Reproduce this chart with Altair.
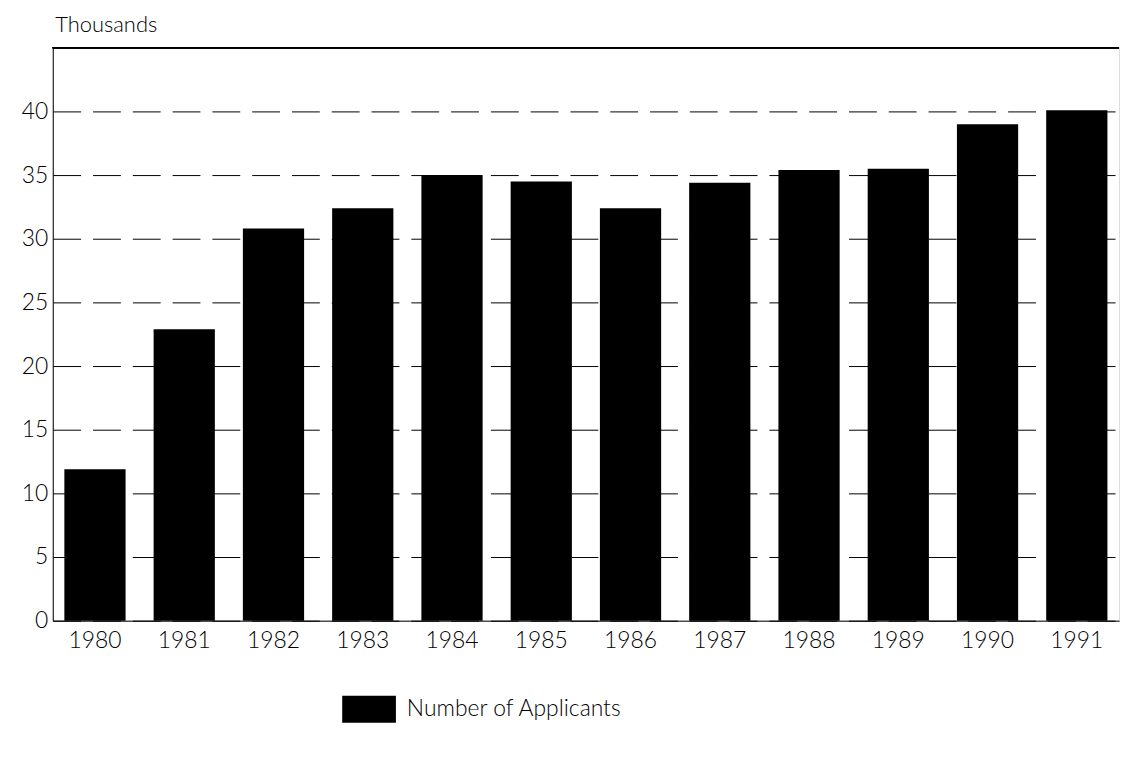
import altair as alt
import pandas as pd

years = ["1980", "1981", "1982", "1983", "1984", "1985", "1986", "1987", "1988", "1989", "1990", "1991"]
applicants = [11.9, 22.9, 30.8, 32.4, 35.0, 34.5, 32.4, 34.4, 35.4, 35.5, 39.0, 40.1]
series = ["Number of Applicants"] * len(years)
y_ticks = [0, 5, 10, 15, 20, 25, 30, 35, 40]

df = pd.DataFrame({"year": years, "value": applicants, "series": series})

W, H = 1072, 576
FONT = "Lato"

bars = alt.Chart(df).mark_bar(color="black").encode(
    x=alt.X("year:N", sort=years,
            scale=alt.Scale(paddingInner=0.314, paddingOuter=0.13),
            axis=alt.Axis(title=None, labelAngle=0, ticks=False, domain=True,
                          domainColor="black", labelFontSize=23, labelPadding=9,
                          labelColor="black", labelFont=FONT, labelFontWeight=300)),
    y=alt.Y("value:Q", scale=alt.Scale(domain=[0, 45], nice=False),
            axis=alt.Axis(values=y_ticks, title="Thousands", titleAngle=0,
                          titleAlign="left", titleX=2, titleY=-23, titleBaseline="middle",
                          titleFontSize=22, titleFontWeight=300, titleFont=FONT,
                          titleColor="black",
                          ticks=False, domainColor="black", labelFontSize=23,
                          labelPadding=5, labelColor="black", labelFont=FONT,
                          labelFontWeight=300,
                          grid=True, gridColor="black", gridDash=[28, 12],
                          gridWidth=1, gridOpacity=1)),
    color=alt.Color("series:N", scale=alt.Scale(range=["black"]),
                    legend=alt.Legend(title=None, orient="none", legendX=291, legendY=638,
                                      symbolType="M-1,-0.5H1V0.5H-1Z", symbolSize=2916,
                                      symbolStrokeWidth=0, symbolOpacity=1,
                                      labelFontSize=23, labelFont=FONT, labelFontWeight=300,
                                      labelColor="black", labelOffset=11, labelLimit=500,
                                      padding=0)),
)

top_line = alt.Chart(df).mark_rule(color="black", strokeWidth=1).encode(
    y=alt.Y(datum=45),
    x=alt.value(0),
    x2=alt.value(W),
)

chart = alt.layer(bars, top_line).properties(
    width=W, height=H,
    autosize=alt.AutoSizeParams(type="none"),
    padding={"left": 45, "top": 38, "right": 5, "bottom": 120},
).configure_view(stroke=None).configure(background="white")

chart.save("out.html", embed_options={"renderer": "svg", "actions": False})
